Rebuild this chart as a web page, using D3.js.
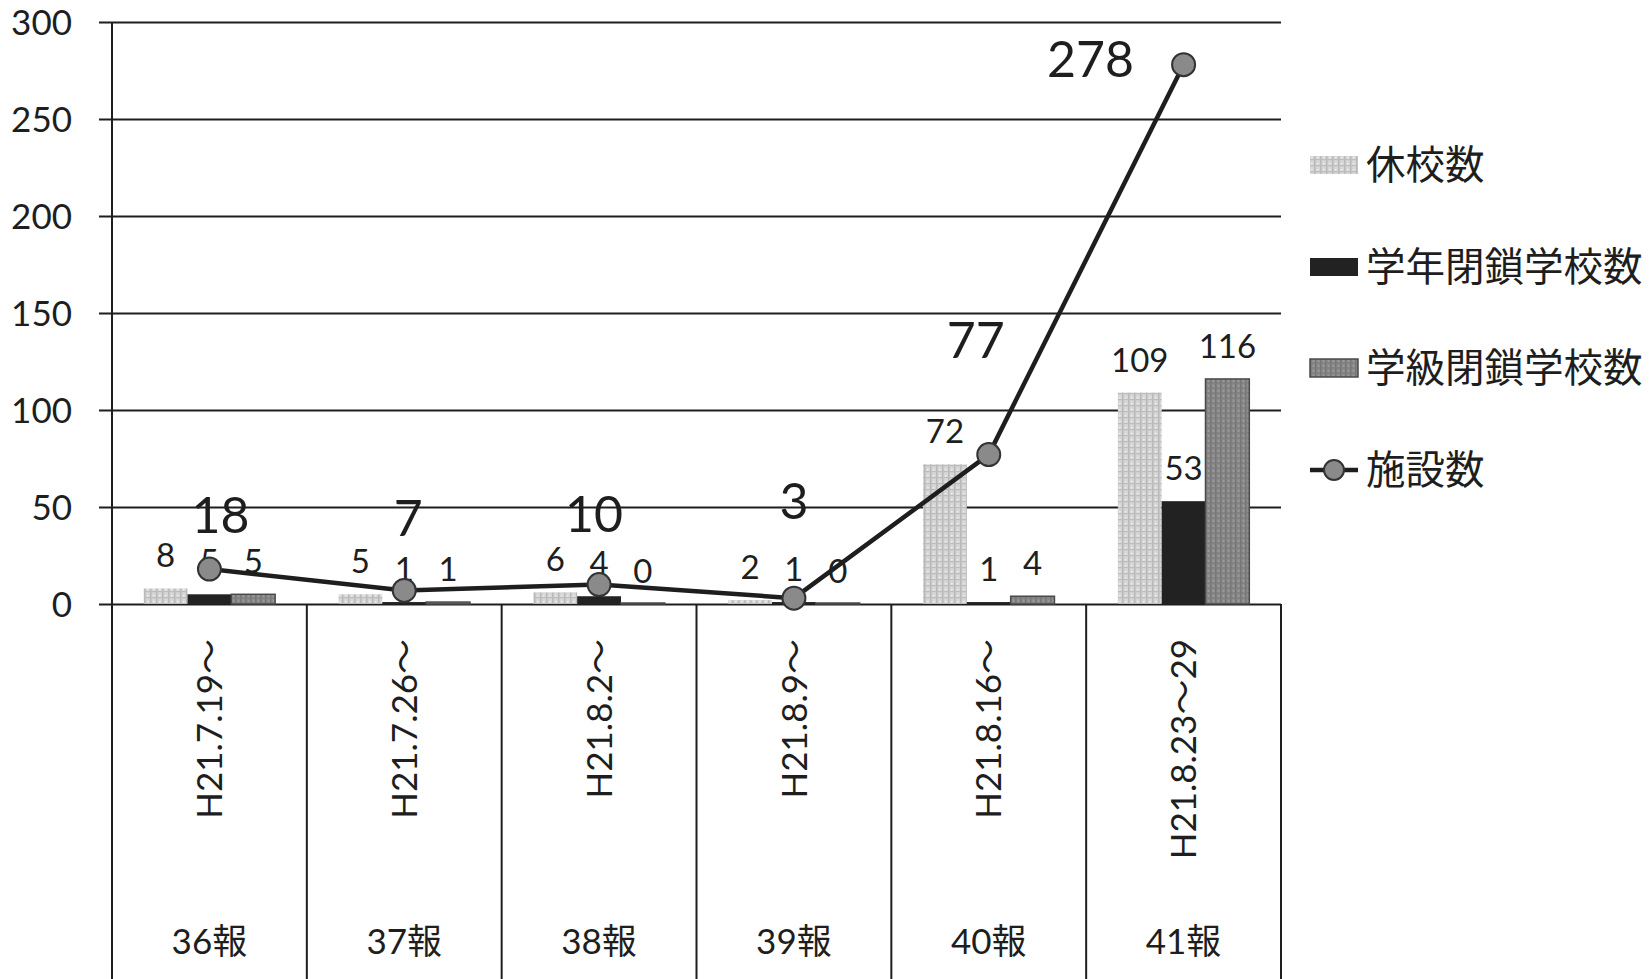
<!DOCTYPE html>
<html>
<head>
<meta charset="utf-8">
<script src="https://cdn.jsdelivr.net/npm/d3@7"></script>
<style>
  html, body { margin: 0; padding: 0; background: #ffffff; }
  svg { display: block; }
</style>
</head>
<body>
<svg id="chart" width="1650" height="979"></svg>
<script>
// Weekly reports and their date ranges
const reports = ["36報", "37報", "38報", "39報", "40報", "41報"];
const periods = ["H21.7.19～", "H21.7.26～", "H21.8.2～", "H21.8.9～", "H21.8.16～", "H21.8.23～29"];

// Series names
const seriesNames = ["休校数", "学年閉鎖学校数", "学級閉鎖学校数"];
const lineName = "施設数";

// Values per report
const closedSchools = [8, 5, 6, 2, 72, 109];      // 休校数
const gradeClosures = [5, 1, 4, 1, 1, 53];        // 学年閉鎖学校数
const classClosures = [5, 1, 0, 0, 4, 116];       // 学級閉鎖学校数
const facilities = [18, 7, 10, 3, 77, 278];       // 施設数

// Y axis ticks
const yTicks = [0, 50, 100, 150, 200, 250, 300];

const seriesValues = [closedSchools, gradeClosures, classClosures];

const svg = d3.select("#chart");
const defs = svg.append("defs");

// Textured fills for the patterned bars
const p1 = defs.append("pattern").attr("id", "texLight")
  .attr("patternUnits", "userSpaceOnUse").attr("width", 6).attr("height", 6);
p1.append("rect").attr("width", 6).attr("height", 6).attr("fill", "#d6d6d6");
p1.append("rect").attr("x", 0).attr("y", 0).attr("width", 1.5).attr("height", 6).attr("fill", "#b8b8b8");
p1.append("rect").attr("x", 0).attr("y", 3).attr("width", 6).attr("height", 1.2).attr("fill", "#bdbdbd");
p1.append("rect").attr("x", 3).attr("y", 1).attr("width", 1.5).attr("height", 1.5).attr("fill", "#ececec");

const p2 = defs.append("pattern").attr("id", "texDark")
  .attr("patternUnits", "userSpaceOnUse").attr("width", 5).attr("height", 5);
p2.append("rect").attr("width", 5).attr("height", 5).attr("fill", "#8c8c8c");
p2.append("rect").attr("x", 0).attr("y", 0).attr("width", 1.5).attr("height", 5).attr("fill", "#767676");
p2.append("rect").attr("x", 0).attr("y", 2.5).attr("width", 5).attr("height", 1).attr("fill", "#7a7a7a");
p2.append("rect").attr("x", 3).attr("y", 0.5).attr("width", 1.2).attr("height", 1.2).attr("fill", "#a4a4a4");

const fills = ["url(#texLight)", "#222222", "url(#texDark)"];
const strokes = ["none", "#1a1a1a", "#4a4a4a"];

// Plot frame
const plotLeft = 112, plotRight = 1281, plotTop = 22, baseY = 604, pageBottom = 979;

const x = d3.scaleBand().domain(reports).range([plotLeft, plotRight]).padding(0);
const xs = d3.scaleBand().domain(d3.range(3)).range([31.7, x.bandwidth() - 31.7]).padding(0);
const y = d3.scaleLinear().domain([0, 300]).range([baseY, plotTop]);

const latin = "Lato, 'Noto Sans CJK JP', sans-serif";
const cjk = "'Noto Sans CJK JP', sans-serif";
const ink = "#1e1e1e";

// Gridlines with outward ticks
const yAxis = d3.axisLeft(y).tickValues(yTicks).tickSize(-(plotRight - plotLeft)).tickPadding(28);
const gy = svg.append("g").attr("transform", `translate(${plotLeft},0)`).call(yAxis);
gy.select(".domain").remove();
gy.selectAll(".tick line").attr("x1", -13).attr("stroke", ink).attr("stroke-width", 2);
gy.selectAll(".tick text").attr("font-family", latin).attr("font-size", 35)
  .attr("fill", ink).attr("x", -40).attr("dy", "0.36em");

// Vertical axis line and category dividers
const dividers = [plotLeft].concat(reports.map(r => x(r) + x.bandwidth()));
svg.append("g").selectAll("line").data(dividers).join("line")
  .attr("x1", d => d).attr("x2", d => d)
  .attr("y1", (d, i) => i === 0 ? plotTop : baseY).attr("y2", pageBottom)
  .attr("stroke", ink).attr("stroke-width", 2);

// Bars
const gBars = svg.append("g");
seriesValues.forEach((vals, s) => {
  gBars.append("g").selectAll("rect").data(vals).join("rect")
    .attr("x", (d, i) => x(reports[i]) + xs(s))
    .attr("width", xs.bandwidth())
    .attr("y", d => y(d) - (d === 0 ? 1 : 0))
    .attr("height", d => Math.max(baseY - y(d), 1))
    .attr("fill", fills[s])
    .attr("stroke", strokes[s])
    .attr("stroke-width", s === 2 ? 1.5 : 0);
});

// Bar value labels
const gBarLabels = svg.append("g").attr("font-family", latin).attr("font-size", 33)
  .attr("fill", ink).attr("text-anchor", "middle");
seriesValues.forEach((vals, s) => {
  gBarLabels.append("g").selectAll("text").data(vals).join("text")
    .attr("x", (d, i) => x(reports[i]) + xs(s) + xs.bandwidth() / 2)
    .attr("y", d => y(d) - 21)
    .text(d => d);
});

// Facility count line
const cx = i => x(reports[i]) + x.bandwidth() / 2;
const line = d3.line().x((d, i) => cx(i)).y(d => y(d));
svg.append("path").datum(facilities).attr("d", line)
  .attr("fill", "none").attr("stroke", ink).attr("stroke-width", 4.5)
  .attr("stroke-linejoin", "round");
svg.append("g").selectAll("circle").data(facilities).join("circle")
  .attr("cx", (d, i) => cx(i)).attr("cy", d => y(d)).attr("r", 11.5)
  .attr("fill", "#8a8a8a").attr("stroke", "#333333").attr("stroke-width", 2);

// Facility count labels, nudged off their markers
const lineLabelNudge = [[11, -36], [4, -54], [-5, -53], [0, -79], [-13, -97], [-93, 12]];
svg.append("g").selectAll("text").data(facilities).join("text")
  .attr("x", (d, i) => cx(i) + lineLabelNudge[i][0])
  .attr("y", (d, i) => y(d) + lineLabelNudge[i][1])
  .attr("text-anchor", "middle").attr("font-family", latin).attr("font-size", 50)
  .attr("fill", ink).text(d => d);

// Category labels: rotated date range and report number
const gCat = svg.append("g").attr("fill", ink);
gCat.selectAll("text.period").data(periods).join("text").attr("class", "period")
  .attr("transform", (d, i) => `translate(${cx(i)},639) rotate(-90)`)
  .attr("text-anchor", "end").attr("dy", "0.36em")
  .attr("font-family", latin).attr("font-size", 35)
  .text(d => d);
gCat.selectAll("text.report").data(reports).join("text").attr("class", "report")
  .attr("x", (d, i) => cx(i)).attr("y", 954)
  .attr("text-anchor", "middle").attr("font-family", latin).attr("font-size", 35)
  .text(d => d);

// Legend
const legendX = 1310, legendText = 1366;
const legendY = [165, 267, 368, 470];
const lg = svg.append("g");
seriesNames.forEach((name, s) => {
  lg.append("rect").attr("x", legendX).attr("y", legendY[s] - 9)
    .attr("width", 48).attr("height", 18)
    .attr("fill", fills[s]).attr("stroke", strokes[s]).attr("stroke-width", s === 2 ? 1.5 : 0);
  lg.append("text").attr("x", legendText).attr("y", legendY[s]).attr("dy", "0.36em")
    .attr("font-family", cjk).attr("font-size", 39.5).attr("fill", ink).text(name);
});
lg.append("line").attr("x1", legendX).attr("x2", legendX + 48)
  .attr("y1", legendY[3]).attr("y2", legendY[3])
  .attr("stroke", ink).attr("stroke-width", 4.5);
lg.append("circle").attr("cx", legendX + 24).attr("cy", legendY[3]).attr("r", 10)
  .attr("fill", "#8a8a8a").attr("stroke", "#333333").attr("stroke-width", 2);
lg.append("text").attr("x", legendText).attr("y", legendY[3]).attr("dy", "0.36em")
  .attr("font-family", cjk).attr("font-size", 39.5).attr("fill", ink).text(lineName);
</script>
</body>
</html>
